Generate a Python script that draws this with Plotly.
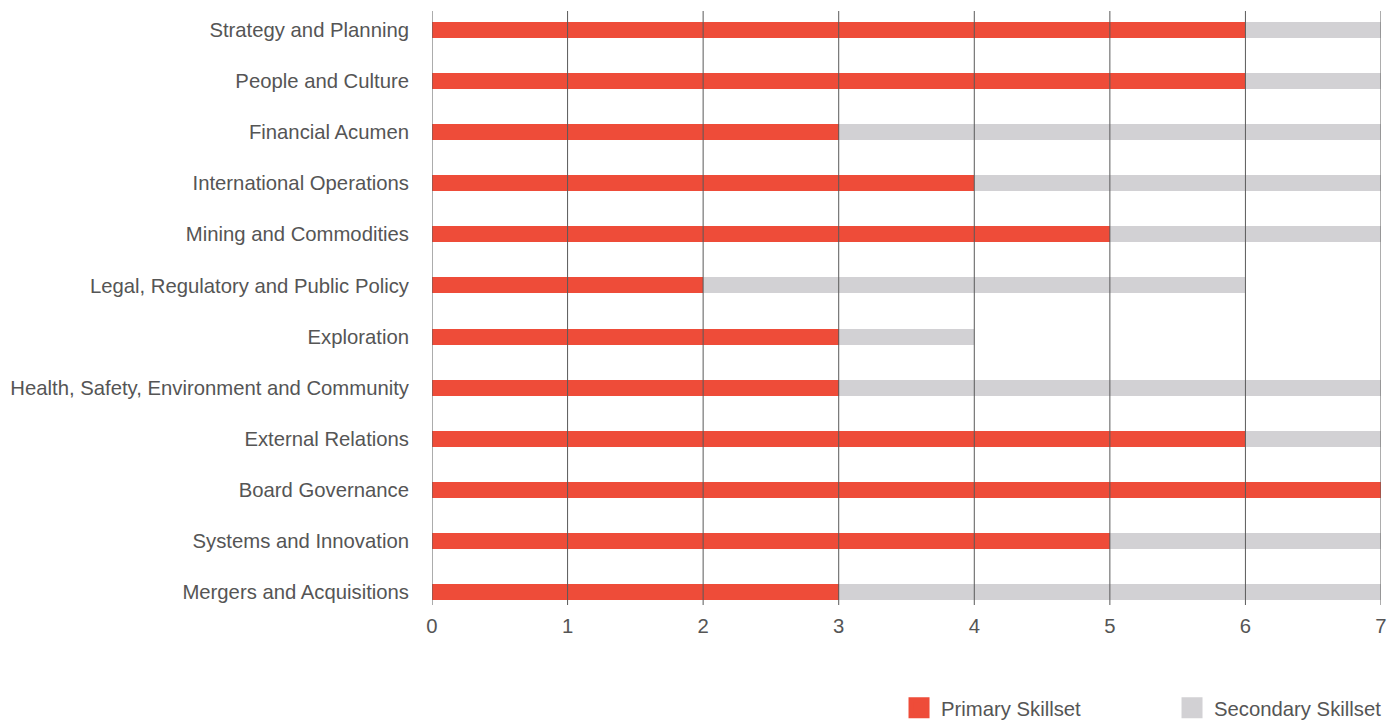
import plotly.graph_objects as go

categories = [
    "Strategy and Planning",
    "People and Culture",
    "Financial Acumen",
    "International Operations",
    "Mining and Commodities",
    "Legal, Regulatory and Public Policy",
    "Exploration",
    "Health, Safety, Environment and Community",
    "External Relations",
    "Board Governance",
    "Systems and Innovation",
    "Mergers and Acquisitions",
]
primary = [6, 6, 3, 4, 5, 2, 3, 3, 6, 7, 5, 3]
secondary = [1, 1, 4, 3, 2, 4, 1, 4, 1, 0, 2, 4]
x_ticks = [0, 1, 2, 3, 4, 5, 6, 7]
series_names = ["Primary Skillset", "Secondary Skillset"]

RED = "#EE4C39"
GREY = "#D2D1D4"
TEXT = "#555555"
FONT = "Liberation Sans"
FS = 20.3

fig = go.Figure()
fig.add_trace(go.Bar(y=categories, x=primary, orientation="h", name=series_names[0],
                     marker=dict(color=RED, line=dict(width=0)), showlegend=False))
fig.add_trace(go.Bar(y=categories, x=secondary, orientation="h", name=series_names[1],
                     marker=dict(color=GREY, line=dict(width=0)), showlegend=False))
# legend entries with larger square swatches
for nm, col in zip(series_names, [RED, GREY]):
    fig.add_trace(go.Scatter(x=[None], y=[None], mode="markers", name=nm,
                             marker=dict(symbol="square", size=23, color=col,
                                         line=dict(color=col, width=6)),
                             showlegend=True, hoverinfo="skip"))

for t in x_ticks:
    fig.add_shape(type="line", xref="x", yref="paper", x0=t, x1=t, y0=0, y1=1,
                  line=dict(color="#5a5a5a", width=1), layer="above")

fig.update_layout(
    barmode="stack",
    bargap=0.687,
    width=1389, height=720,
    margin=dict(l=432, r=8, t=11, b=115, autoexpand=False),
    paper_bgcolor="white", plot_bgcolor="white",
    font=dict(family=FONT, size=FS, color=TEXT),
    showlegend=True,
    legend=dict(orientation="h", xref="container", yref="paper", x=0.6458, y=-0.1734,
                xanchor="left", yanchor="middle", entrywidth=224,
                font=dict(size=FS, color=TEXT), traceorder="normal",
                itemwidth=34, itemsizing="trace"),
    xaxis=dict(range=[0, 7], tickvals=x_ticks, showgrid=False, zeroline=False,
               showline=False, ticks="", tickfont=dict(size=FS, color=TEXT),
               ticklabelstandoff=7, automargin=False),
    yaxis=dict(categoryorder="array", categoryarray=categories,
               range=[11.254, -0.372], showgrid=False, zeroline=False, showline=False,
               ticks="", tickfont=dict(size=FS, color=TEXT), ticklabelstandoff=22,
               automargin=False),
)

fig.write_html("out.html")
